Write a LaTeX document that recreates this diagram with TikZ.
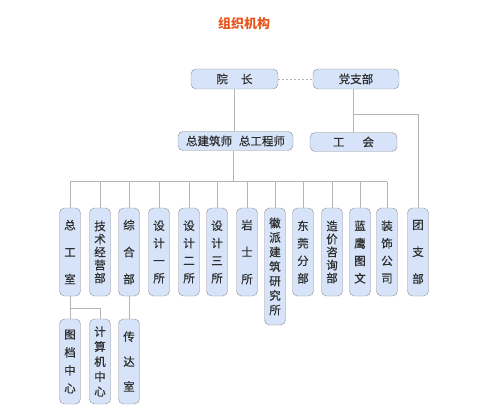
\documentclass[tikz,border=0pt]{standalone}
\usepackage{fontspec}
\newfontfamily\cjk[FakeBold=0.5]{Noto Sans CJK SC}
\newfontfamily\cjktitle{Noto Sans CJK SC}
\usetikzlibrary{positioning}

\definecolor{boxfill}{HTML}{D6E3F9}
\definecolor{boxline}{HTML}{8E8E8E}
\definecolor{linkgray}{HTML}{B4B4B4}
\definecolor{titlered}{HTML}{E8561E}
\definecolor{txt}{HTML}{2E2E2E}

\begin{document}
\begin{tikzpicture}[x=1pt, y=-1pt,
    unit/.style={draw=boxline, fill=boxfill, rounded corners=5pt, inner sep=0pt, text=txt,
        font=\cjk\fontsize{11.5}{13}\selectfont, minimum height=19pt},
    dept/.style={unit, minimum width=21pt, minimum height=88pt, align=center, text width=21pt},
    link/.style={draw=linkgray, line width=0.8pt}
]
\useasboundingbox (0,0) rectangle (500,414);

% Title
\node[font=\cjktitle\bfseries\fontsize{13}{15}\selectfont, text=titlered] (title) at (244,24) {组织机构};

% Top level
\node[unit, minimum width=87pt, minimum height=20pt] (yuan) at (234.5,79) {院\hspace{13pt}长};
\node[unit, minimum width=86pt, minimum height=20pt] (dang) at (356,79) {党支部};
\node[unit, minimum width=115pt] (zong) at (235.5,141) {总建筑师\hspace{0.6em}总工程师};
\node[unit, minimum width=87pt] (gonghui) at (353.5,142) {工\hspace{18pt}会};

% Departments
\node[dept] (zgs) at (70,252) {总\\[14pt]工\\[14pt]室};
\node[dept] (jsjy) at (100,252) {技\\术\\经\\营\\部};
\node[dept] (zonghe) at (129,252) {综\\[14pt]合\\[14pt]部};
\node[dept] (sj1) at (159,252) {设\\[4.5pt]计\\[4.5pt]一\\[4.5pt]所};
\node[dept] (sj2) at (189,252) {设\\[4.5pt]计\\[4.5pt]二\\[4.5pt]所};
\node[dept] (sj3) at (217,252) {设\\[4.5pt]计\\[4.5pt]三\\[4.5pt]所};
\node[dept] (yanshi) at (247,252) {岩\\[14pt]士\\[14pt]所};
\node[dept, minimum height=117pt] (huipai) at (275,266.5) {徽\\[1.5pt]派\\[1.5pt]建\\[1.5pt]筑\\[1.5pt]研\\[1.5pt]究\\[1.5pt]所};
\node[dept] (dongguan) at (303,252) {东\\[4.5pt]莞\\[4.5pt]分\\[4.5pt]部};
\node[dept] (zaojia) at (332,252) {造\\价\\咨\\询\\部};
\node[dept] (lanying) at (360,252) {蓝\\[4.5pt]鹰\\[4.5pt]图\\[4.5pt]文};
\node[dept] (zhuangshi) at (387,252) {装\\[4.5pt]饰\\[4.5pt]公\\[4.5pt]司};
\node[dept] (tuan) at (418,252) {团\\[14pt]支\\[14pt]部};

% Second row
\node[dept, minimum height=85pt] (tudang) at (70,361.5) {图\\[5pt]档\\[5pt]中\\[5pt]心};
\node[dept, minimum height=85pt] (jisuanji) at (100,361.5) {计\\[2pt]算\\[2pt]机\\[2pt]中\\[2pt]心};
\node[dept, minimum height=85pt] (chuanda) at (129,361.5) {传\\[12pt]达\\[12pt]室};

% Connectors
\draw[link, dash pattern=on 2pt off 2pt] (yuan.east) -- (dang.west);
\draw[link] (yuan.south) -- (yuan.south |- zong.north);
\draw[link] (dang.south) ++(-3,0) coordinate (dtop) -- (dtop |- gonghui.north);
\path (dtop) ++(0,25) coordinate (tbr);
\draw[link] (tbr) -| (tuan.north);

\draw[link] (zong.south) ++(-2.5,0) -- ++(0,31) coordinate (bus);
\draw[link] (zgs.north |- bus) -- (zhuangshi.north |- bus);
\foreach \d in {zgs,jsjy,zonghe,sj1,sj2,sj3,yanshi,huipai,dongguan,zaojia,lanying,zhuangshi}
    \draw[link] (\d.north) -- (\d.north |- bus);

\draw[link] (zgs.south) -- (tudang.north);
\coordinate (sbr) at (70,308);
\draw[link] (sbr) -| (jisuanji.north);
\draw[link] (zonghe.south) -- (chuanda.north);
\end{tikzpicture}
\end{document}
